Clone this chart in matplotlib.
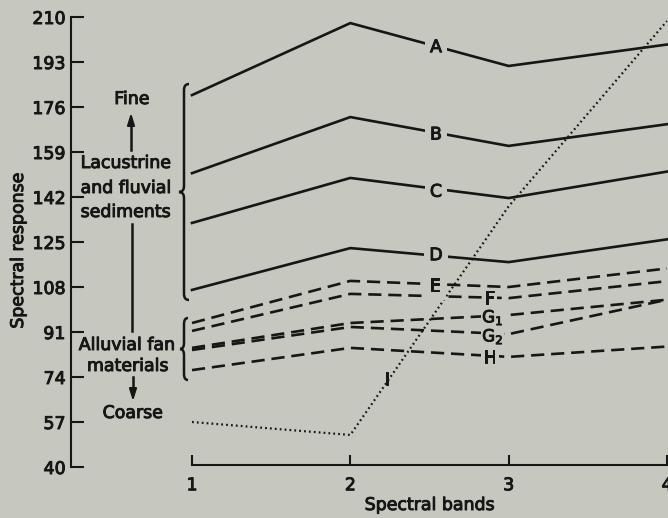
import matplotlib
matplotlib.use("Agg")
import matplotlib.pyplot as plt
import matplotlib.patheffects as pe
from matplotlib.path import Path
from matplotlib.patches import PathPatch

plt.rcParams['font.family'] = ['DejaVu Sans']
plt.rcParams['mathtext.fontset'] = 'dejavusans'

BG = '#c6c8c0'
INK = '#161616'
FS = 12.5
PE = [pe.withStroke(linewidth=0.7, foreground=INK)]

bands = [1, 2, 3, 4]
y_ticks = [40, 57, 74, 91, 108, 125, 142, 159, 176, 193, 210]

A = [180.5, 207.7, 191.5, 199.6]
B = [151.0, 172.2, 161.3, 169.5]
C = [132.2, 149.2, 141.6, 151.6]
D = [106.9, 122.7, 117.4, 126.0]
E = [94.4, 110.3, 108.0, 115.0]
F = [91.4, 105.4, 103.8, 110.2]
G1 = [85.0, 94.4, 97.4, 103.2]
G2 = [84.2, 92.9, 90.2, 103.2]
H = [76.6, 85.0, 81.6, 85.5]
I = [57.0, 52.1, 138.5, 208.5]

solid = {'A': A, 'B': B, 'C': C, 'D': D}
dashed = {'E': E, 'F': F, 'G1': G1, 'G2': G2, 'H': H}

fig = plt.figure(figsize=(6.68, 5.18), dpi=100, facecolor=BG)
ax = fig.add_axes([71/668, 1 - 467/518, 1 - 71/668, 450/518])
ax.set_facecolor(BG)
ax.set_xlim(1 - 121/158.33, 4 + 1/158.33)
ax.set_ylim(40, 210)

for k, v in solid.items():
    ax.plot(bands, v, color=INK, lw=1.9, solid_joinstyle='miter', clip_on=False, zorder=2)
for k, v in dashed.items():
    ax.plot(bands, v, color=INK, lw=1.9, dashes=(5, 2.6), clip_on=False, zorder=2)
ax.plot(bands, I, color=INK, lw=1.6, dashes=(0.8, 1.4), clip_on=False, zorder=3)

# line labels with background gaps
def lab(x, y, s, pad=0.3, fs=FS):
    ax.text(x, y, s, ha='center', va='center', fontsize=fs, color=INK, zorder=5,
            path_effects=PE,
            bbox=dict(boxstyle='square,pad=%s' % pad, fc=BG, ec='none'))

lab(2.541, 198.6, 'A')
lab(2.541, 165.6, 'B')
lab(2.541, 144.0, 'C')
lab(2.541, 120.0, 'D')
lab(2.535, 108.4, 'E')
lab(2.88, 103.6, 'F', pad=0.12)
lab(2.90, 96.5, r'G$_1$', pad=0.05, fs=12)
lab(2.90, 89.3, r'G$_2$', pad=0.05, fs=12)
lab(2.88, 81.3, 'H', pad=0.15)
ax.text(2.23, 72.9, 'I', ha='center', va='center', fontsize=FS, color=INK, path_effects=PE)

# axes styling
for s in ['top', 'right']:
    ax.spines[s].set_visible(False)
ax.spines['left'].set_bounds(40, 210)
ax.spines['bottom'].set_bounds(1, 4)
ax.spines['bottom'].set_position(('data', 40.7))
for s in ['left', 'bottom']:
    ax.spines[s].set_linewidth(1.5)
    ax.spines[s].set_color(INK)

ax.set_yticks(y_ticks)
ax.set_yticklabels([str(t) for t in y_ticks])
ax.set_xticks(bands)
ax.set_xticklabels([str(b) for b in bands])
ax.tick_params(axis='y', direction='in', length=9, width=1.5, colors=INK, labelsize=FS, pad=4)
ax.tick_params(axis='x', direction='in', length=7.5, width=1.5, colors=INK, labelsize=FS, pad=8)
for t in ax.get_xticklabels() + ax.get_yticklabels():
    t.set_path_effects(PE)

fig.text(18/668, 1 - 250/518, 'Spectral response', rotation=90, ha='center', va='center',
         fontsize=FS, color=INK, path_effects=PE)
fig.text(430/668, 1 - 505/518, 'Spectral bands', ha='center', va='center', fontsize=FS,
         color=INK, path_effects=PE)

# left annotations (figure pixel coordinates)
def px(x, y):
    return (x/668, 1 - y/518)

tkw = dict(ha='center', va='center', fontsize=FS, color=INK, transform=fig.transFigure,
           path_effects=PE)
fig.text(*px(132, 99), 'Fine', **tkw)
fig.text(*px(126, 163), 'Lacustrine', **tkw)
fig.text(*px(126, 188), 'and fluvial', **tkw)
fig.text(*px(126, 212), 'sediments', **tkw)
fig.text(*px(127, 345), 'Alluvial fan', **tkw)
fig.text(*px(128, 366), 'materials', **tkw)
fig.text(*px(133, 413), 'Coarse', **tkw)

fig.add_artist(plt.Line2D([131/668, 131/668], [1 - 150/518, 1 - 120/518], color=INK, lw=1.8))
fig.add_artist(plt.Line2D([132/668, 132/668], [1 - 224/518, 1 - 331/518], color=INK, lw=1.8))
fig.add_artist(plt.Line2D([133/668, 133/668], [1 - 377/518, 1 - 392/518], color=INK, lw=1.8))
ax.annotate('', xy=px(131, 110), xytext=px(131, 125), xycoords='figure fraction',
            arrowprops=dict(arrowstyle='-|>,head_length=0.7,head_width=0.22', color=INK, lw=1.5))
ax.annotate('', xy=px(133, 404), xytext=px(133, 388), xycoords='figure fraction',
            arrowprops=dict(arrowstyle='-|>,head_length=0.7,head_width=0.22', color=INK, lw=1.5))

def brace(x, y0, y1, w=5):
    ym = (y0 + y1) / 2
    verts = [px(x + w, y0), px(x, y0), px(x, y0 + 6), px(x, ym - 6),
             px(x, ym), px(x - w, ym), px(x, ym), px(x, ym + 6),
             px(x, y1 - 6), px(x, y1), px(x + w, y1)]
    codes = [Path.MOVETO, Path.CURVE3, Path.CURVE3, Path.LINETO,
             Path.CURVE3, Path.CURVE3, Path.CURVE3, Path.CURVE3,
             Path.LINETO, Path.CURVE3, Path.CURVE3]
    p = PathPatch(Path(verts, codes), fc='none', ec=INK, lw=1.8, transform=fig.transFigure)
    fig.add_artist(p)

brace(184, 84, 300)
brace(184, 318, 380, w=4)

fig.savefig('out.png', dpi=100, facecolor=BG)
